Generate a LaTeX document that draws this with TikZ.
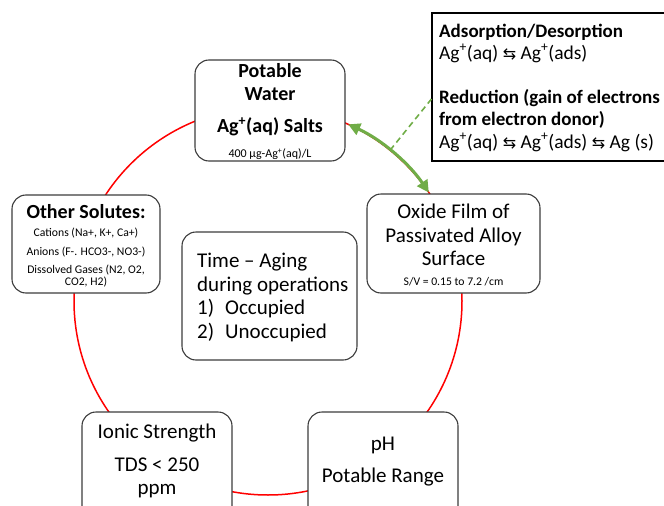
\documentclass[tikz,border=0pt]{standalone}
\usepackage{fontspec}
\setmainfont{Carlito}
\newfontfamily\symfont{DejaVu Sans}
\usetikzlibrary{arrows.meta}
\definecolor{arrgreen}{RGB}{112,173,71}
\definecolor{boxline}{RGB}{60,60,60}
\newcommand{\agp}{Ag\textsuperscript{+}}
\newcommand{\eqarr}{{\symfont\fontsize{16}{16}\selectfont ⇆}}
\begin{document}
\begin{tikzpicture}[x=1pt,y=-1pt,
  box/.style={draw=boxline, line width=1.1pt, fill=white, rounded corners=14pt, inner sep=0pt},
  big/.style={inner sep=0pt, font=\fontsize{21}{23.5}\selectfont},
  bigb/.style={inner sep=0pt, font=\fontsize{20}{23.5}\selectfont\bfseries},
  small/.style={inner sep=0pt, font=\fontsize{11.7}{12.5}\selectfont}]
\useasboundingbox (0,0) rectangle (664,506);
\coordinate (c) at (268,301);
% red circle
\draw[red, line width=1.5pt] (c) circle[radius=194];
% green arrow along the circle
\draw[arrgreen, line width=3pt, {Triangle[length=12pt,width=12pt]}-{Triangle[length=12pt,width=12pt]}]
  ([shift={(-65.6:194)}]c) arc[start angle=-65.6, end angle=-34, radius=194];
\coordinate (dm) at ([shift={(-51:194)}]c);
% boxes
\node[box, minimum width=150pt, minimum height=101pt] (pw) at (270,110.5) {};
\node[box, minimum width=148pt, minimum height=98pt] (os) at (86,244) {};
\node[box, minimum width=173pt, minimum height=99pt] (ox) at (453.5,243.5) {};
\node[box, minimum width=175pt, minimum height=128pt] (tm) at (269.5,296) {};
\node[box, minimum width=150pt, minimum height=110pt] (is) at (157,467) {};
\node[box, minimum width=150pt, minimum height=110pt] (ph) at (383,467) {};
\node[draw=black, line width=1.1pt, fill=white, inner sep=0pt, minimum width=240pt, minimum height=148pt] (tr) at (552,87) {};
% dashed link
\draw[arrgreen, line width=1.6pt, dash pattern=on 6pt off 4pt] (dm) -- ([yshift=-12pt]tr.west);
% texts: potable water
\node[bigb, align=center] (pwt) at (270,82) {Potable\\Water};
\node[bigb] (pws) at (270,127) {\agp(aq) Salts};
\node[small, font=\fontsize{12}{12}\selectfont] (pwc) at (270,154) {400 µg-\agp(aq)/L};
% other solutes
\node[bigb] (ost) at (86,212) {Other Solutes:};
\node[small] (os1) at (86,233) {Cations (Na+, K+, Ca+)};
\node[small] (os2) at (86,252) {Anions (F-. HCO3-, NO3-)};
\node[small, align=center] (os3) at (86,276) {Dissolved Gases (N2, O2,\\CO2, H2)};
% oxide film
\node[big, align=center] (oxt) at (453.5,235) {Oxide Film of\\Passivated Alloy\\Surface};
\node[small] (oxc) at (453.5,282) {S/V = 0.15 to 7.2 /cm};
% time
\node[big, align=left, anchor=west] (tmt) at (197,297.5) {Time – Aging\\during operations\\\makebox[28pt][l]{1)}Occupied\\\makebox[28pt][l]{2)}Unoccupied};
% ionic strength
\node[big] (is1) at (157,433) {Ionic Strength};
\node[big, align=center] (is2) at (157,478) {TDS < 250\\ppm};
% pH
\node[big] (ph1) at (383,445) {pH};
\node[big] (ph2) at (383,477) {Potable Range};
% top right text
\node[inner sep=0pt, anchor=west, align=left, font=\fontsize{19.5}{22.2}\selectfont] (trt) at (439,87.5)
 {\textbf{\fontsize{19}{22.2}\selectfont Adsorption/Desorption}\\\agp(aq) \eqarr{} \agp(ads)\\\mbox{}\\\textbf{\fontsize{19}{22.2}\selectfont Reduction (gain of electrons}\\\textbf{\fontsize{19}{22.2}\selectfont from electron donor)}\\\agp(aq) \eqarr{} \agp(ads) \eqarr{} Ag (s)};
\end{tikzpicture}
\end{document}
